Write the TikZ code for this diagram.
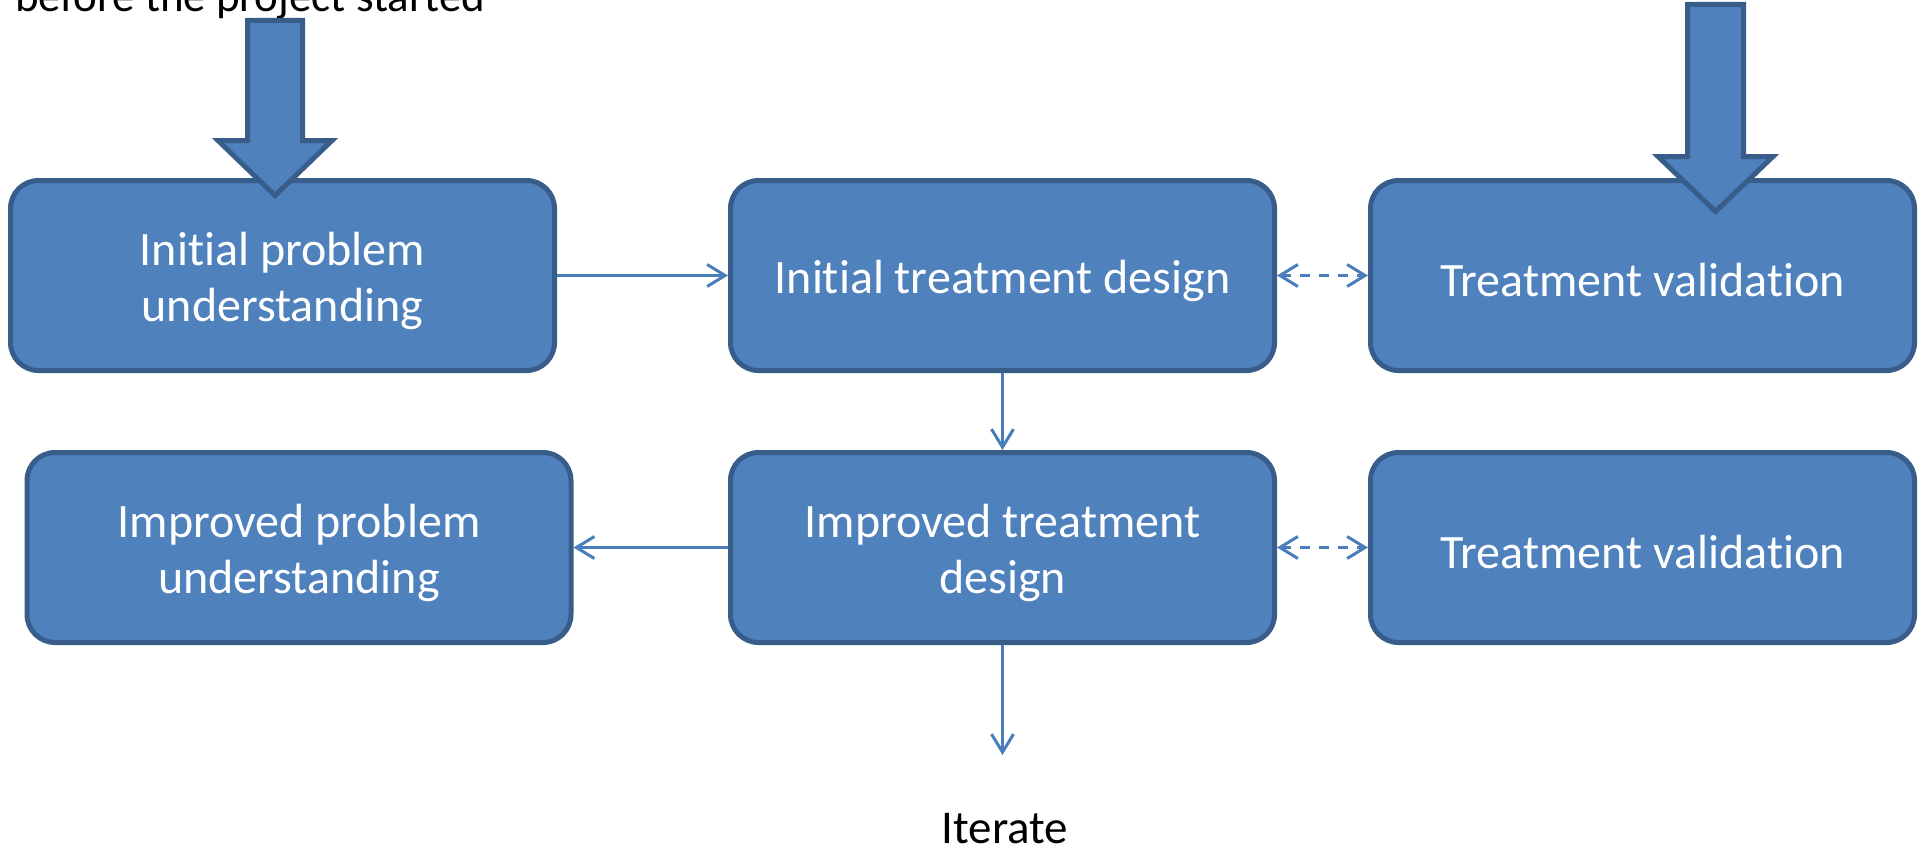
\documentclass[tikz,border=0pt]{standalone}
\usepackage{fontspec}
\setmainfont{Carlito}[Ligatures={NoCommon}]
\usetikzlibrary{arrows.meta}
\definecolor{boxfill}{HTML}{4F81BD}
\definecolor{boxline}{HTML}{385D8A}
\definecolor{connblue}{HTML}{4A7EBB}
\begin{document}
\begin{tikzpicture}[x=1pt,y=1pt,
  procbox/.style={draw=boxline, fill=boxfill, line width=5pt, rounded corners=28pt,
    minimum width=544pt, minimum height=190pt, inner sep=0pt},
  boxtext/.style={text=white, align=center, inner sep=0pt, yshift=-5pt,
    font=\fontsize{48}{56}\selectfont},
  connector/.style={draw=connblue, line width=3pt, -{Straight Barb[length=18pt,width=22pt]}},
  dconnector/.style={draw=connblue, line width=3pt, dash pattern=on 10pt off 9pt,
    {Straight Barb[length=18pt,width=22pt]}-{Straight Barb[length=18pt,width=22pt]}},
  bigarrow/.style={fill=boxfill, draw=boxline, line width=5pt, line join=miter},
  plaintext/.style={inner sep=0pt, font=\fontsize{47}{56}\selectfont, text=black}
]
\useasboundingbox (0,0) rectangle (1921,-851);
\node[procbox, label={[boxtext]center:Initial problem\\understanding}] (ipu) at (282.5,-275.5) {};
\node[procbox, label={[boxtext]center:Initial treatment design}] (itd) at (1002.5,-275.5) {};
\node[procbox, label={[boxtext]center:Treatment validation}] (tv1) at (1642.5,-275.5) {};
\node[procbox, label={[boxtext]center:Improved problem\\understanding}] (ipu2) at (299,-547.5) {};
\node[procbox, label={[boxtext]center:Improved treatment\\design}] (itd2) at (1002.5,-547.5) {};
\node[procbox, label={[boxtext]center:Treatment validation}] (tv2) at (1642.5,-547.5) {};

\draw[connector] (ipu.east) -- (itd.west);
\draw[connector] (itd.south) -- (itd2.north);
\draw[connector] (itd2.west) -- (ipu2.east);
\draw[dconnector] (itd.east) -- (tv1.west);
\draw[dconnector] (itd2.east) -- (tv2.west);
\coordinate (itend) at (1002.5,-755);
\draw[connector] (itd2.south) -- (itend);
\node[plaintext, anchor=base] (iter) at (1005,-843) {Iterate};

\node[plaintext, anchor=base west, font=\fontsize{45}{54}\selectfont] (pre) at (15,-12) {before the project started};

\draw[bigarrow] (247.5,-20.5) -- (302.5,-20.5) -- (302.5,-140.5) -- (332,-140.5)
  -- (275,-195.5) -- (218,-140.5) -- (247.5,-140.5) -- cycle;
\draw[bigarrow] (1687.5,-4.5) -- (1743.5,-4.5) -- (1743.5,-156.5) -- (1773,-156.5)
  -- (1715.5,-211.5) -- (1658,-156.5) -- (1687.5,-156.5) -- cycle;
\end{tikzpicture}
\end{document}
